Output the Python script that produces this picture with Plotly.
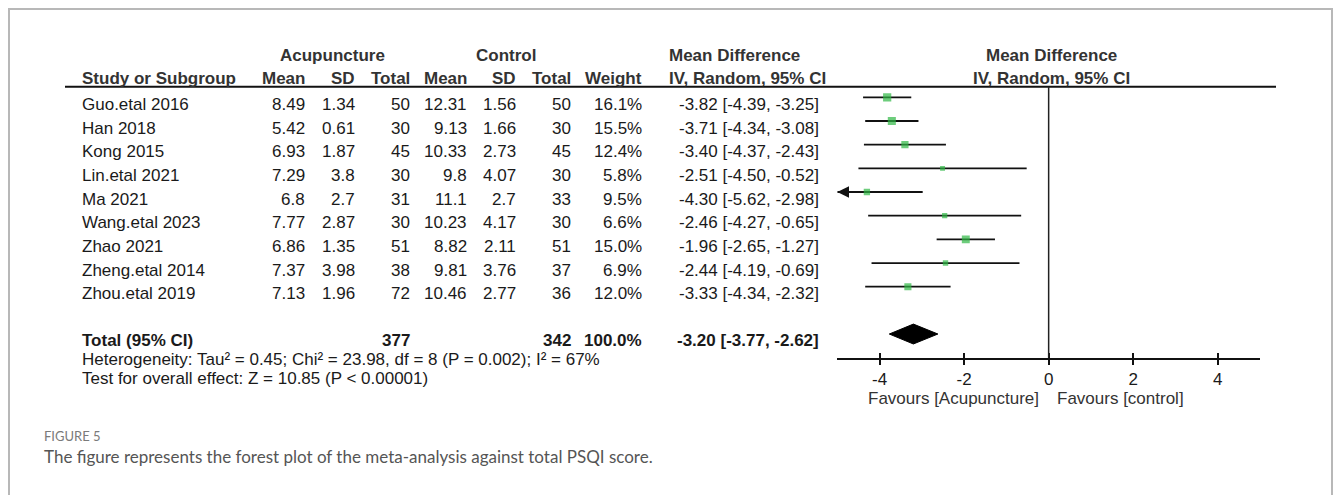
import math
import plotly.graph_objects as go

# ---- study data -------------------------------------------------------------
studies = ["Guo.etal 2016", "Han 2018", "Kong 2015", "Lin.etal 2021", "Ma 2021",
           "Wang.etal 2023", "Zhao 2021", "Zheng.etal 2014", "Zhou.etal 2019"]
acu_mean = [8.49, 5.42, 6.93, 7.29, 6.8, 7.77, 6.86, 7.37, 7.13]
acu_sd = [1.34, 0.61, 1.87, 3.8, 2.7, 2.87, 1.35, 3.98, 1.96]
acu_n = [50, 30, 45, 30, 31, 30, 51, 38, 72]
ctl_mean = [12.31, 9.13, 10.33, 9.8, 11.1, 10.23, 8.82, 9.81, 10.46]
ctl_sd = [1.56, 1.66, 2.73, 4.07, 2.7, 4.17, 2.11, 3.76, 2.77]
ctl_n = [50, 30, 45, 30, 33, 30, 51, 37, 36]
weight = [16.1, 15.5, 12.4, 5.8, 9.5, 6.6, 15.0, 6.9, 12.0]
md = [-3.82, -3.71, -3.40, -2.51, -4.30, -2.46, -1.96, -2.44, -3.33]
ci_lo = [-4.39, -4.34, -4.37, -4.50, -5.62, -4.27, -2.65, -4.19, -4.34]
ci_hi = [-3.25, -3.08, -2.43, -0.52, -2.98, -0.65, -1.27, -0.69, -2.32]

total_acu = 377
total_ctl = 342
total_weight = 100.0
pooled_md = -3.20
pooled_lo = -3.77
pooled_hi = -2.62

heterogeneity = "Heterogeneity: Tau² = 0.45; Chi² = 23.98, df = 8 (P = 0.002); I² = 67%"
overall_test = "Test for overall effect: Z = 10.85 (P < 0.00001)"

x_ticks = [-4, -2, 0, 2, 4]
x_range = [-5, 5]

# ---- layout helpers ---------------------------------------------------------
W, H = 1335, 495
FONT = "Liberation Sans, Arial, sans-serif"
CAP_FONT = "Lato, Open Sans, sans-serif"
TXT = "#1a1a1a"
HDR = "#333333"


def px(x):
    return x / W


def py(y):
    return 1 - y / H


TOTAL_ROW = len(studies) + 1  # blank row between studies and total
ROW_TEXT_SHIFT = -7            # table text sits slightly below the CI lines

annotations = []


def cell(text, x, row=None, y=None, anchor="right", bold=False, color=TXT, size=17,
         shift=ROW_TEXT_SHIFT, family=FONT):
    if bold:
        text = f"<b>{text}</b>"
    a = dict(text=text, xref="paper", x=px(x), xanchor=anchor, yanchor="middle",
             showarrow=False, font=dict(family=family, size=size, color=color))
    if row is not None:
        a.update(yref="y", y=row, yshift=shift)
    else:
        a.update(yref="paper", y=py(y))
    annotations.append(a)


# column right edges (pixels)
C_STUDY = 80
C_AM, C_ASD, C_AN = 306.7, 356.7, 412.3
C_CM, C_CSD, C_CN = 469.3, 518.3, 572.7
C_W = 644
C_CI = 821
C_CI_LEFT = 667

# header rows
H1, H2 = 55, 78.3
cell("Acupuncture", 332, y=H1, anchor="center", bold=True, color=HDR)
cell("Control", 506, y=H1, anchor="center", bold=True, color=HDR)
cell("Mean Difference", C_CI_LEFT, y=H1, anchor="left", bold=True, color=HDR)
cell("Mean Difference", 1051, y=H1, anchor="center", bold=True, color=HDR)
cell("Study or Subgroup", C_STUDY, y=H2, anchor="left", bold=True, color=HDR)
for label, xr in [("Mean", C_AM), ("SD", C_ASD), ("Total", C_AN),
                  ("Mean", C_CM), ("SD", C_CSD), ("Total", C_CN), ("Weight", C_W)]:
    cell(label, xr, y=H2, bold=True, color=HDR)
cell("IV, Random, 95% CI", C_CI_LEFT, y=H2, anchor="left", bold=True, color=HDR)
cell("IV, Random, 95% CI", 1051, y=H2, anchor="center", bold=True, color=HDR)

# study rows
for i, name in enumerate(studies):
    cell(name, C_STUDY, row=i, anchor="left")
    cell(str(acu_mean[i]), C_AM, row=i)
    cell(str(acu_sd[i]), C_ASD, row=i)
    cell(str(acu_n[i]), C_AN, row=i)
    cell(str(ctl_mean[i]), C_CM, row=i)
    cell(str(ctl_sd[i]), C_CSD, row=i)
    cell(str(ctl_n[i]), C_CN, row=i)
    cell(f"{weight[i]:.1f}%", C_W, row=i)
    cell(f"{md[i]:.2f} [{ci_lo[i]:.2f}, {ci_hi[i]:.2f}]", C_CI, row=i)

# total row
cell("Total (95% CI)", C_STUDY, row=TOTAL_ROW, anchor="left", bold=True, shift=-6)
cell(str(total_acu), C_AN, row=TOTAL_ROW, bold=True, shift=-6)
cell(str(total_ctl), C_CN, row=TOTAL_ROW, bold=True, shift=-6)
cell(f"{total_weight:.1f}%", C_W, row=TOTAL_ROW, bold=True, shift=-6)
cell(f"{pooled_md:.2f} [{pooled_lo:.2f}, {pooled_hi:.2f}]", C_CI, row=TOTAL_ROW,
     bold=True, shift=-6)

cell(heterogeneity, C_STUDY, y=359, anchor="left")
cell(overall_test, C_STUDY, y=378.5, anchor="left")

# direction labels under the axis
cell("Favours [Acupuncture]", 953.7, y=398.3, anchor="center", color=HDR)
cell("Favours [control]", 1120, y=398.3, anchor="center", color=HDR)

# caption
cell("FIGURE 5", 42, y=435.5, anchor="left", color="#7a7a7a", size=13, family=CAP_FONT)
cell("The figure represents the forest plot of the meta-analysis against total PSQI score.",
     42, y=456, anchor="left", color="#555555", size=17, family=CAP_FONT)

# ---- forest plot marks -----------------------------------------------------
fig = go.Figure()

line_x, line_y = [], []
for i in range(len(studies)):
    line_x += [max(ci_lo[i], x_range[0]), min(ci_hi[i], x_range[1]), None]
    line_y += [i, i, None]
fig.add_trace(go.Scatter(x=line_x, y=line_y, mode="lines",
                         line=dict(color="#111111", width=1.8),
                         hoverinfo="skip", showlegend=False))

fig.add_trace(go.Scatter(
    x=md, y=list(range(len(studies))), mode="markers",
    marker=dict(symbol="square", color="#2fb845",
                size=[2.05 * math.sqrt(w) for w in weight], line=dict(width=0)),
    showlegend=False, hoverinfo="skip"))

# arrows for intervals running past the axis
for i in range(len(studies)):
    if ci_lo[i] < x_range[0]:
        annotations.append(dict(x=x_range[0], y=i, xref="x", yref="y",
                                ax=x_range[0] + 0.3, ay=i, axref="x", ayref="y",
                                text="", showarrow=True, arrowhead=2, arrowsize=1.3,
                                arrowwidth=1.8, arrowcolor="#111111"))

# pooled-estimate diamond
half_h = 0.42
fig.add_trace(go.Scatter(
    x=[pooled_lo, pooled_md, pooled_hi, pooled_md, pooled_lo],
    y=[TOTAL_ROW, TOTAL_ROW - half_h, TOTAL_ROW, TOTAL_ROW + half_h, TOTAL_ROW],
    mode="lines", fill="toself", fillcolor="#000000",
    line=dict(color="#000000", width=1), showlegend=False, hoverinfo="skip"))

# carrier trace for the inward half of the tick marks
fig.add_trace(go.Scatter(x=[0], y=[0], xaxis="x2", yaxis="y", mode="markers",
                         marker=dict(opacity=0), showlegend=False, hoverinfo="skip"))

shapes = [
    # header rule
    dict(type="line", xref="paper", yref="paper", x0=px(65), x1=px(1276),
         y0=py(86.7), y1=py(86.7), line=dict(color="#111111", width=2)),
    # line of no effect
    dict(type="line", xref="x", yref="y domain", x0=0, x1=0, y0=0, y1=1,
         line=dict(color="#222222", width=1.5)),
    # figure frame
    dict(type="path", xref="paper", yref="paper",
         path=f"M {px(9)},0 L {px(9)},{py(9)} L {px(1332)},{py(9)} L {px(1332)},0",
         line=dict(color="#b8b8b8", width=2)),
]

axis_dom = [px(837.3), px(1260)]
fig.update_layout(
    width=W, height=H, autosize=False,
    margin=dict(l=0, r=0, t=0, b=0, pad=0),
    paper_bgcolor="white", plot_bgcolor="rgba(0,0,0,0)",
    showlegend=False,
    xaxis=dict(domain=axis_dom, range=x_range, showgrid=False, zeroline=False,
               showline=True, linecolor="#111111", linewidth=2,
               ticks="outside", ticklen=5, tickwidth=2, tickcolor="#111111",
               tickvals=x_ticks, ticktext=[str(t) for t in x_ticks],
               tickfont=dict(family=FONT, size=17, color=TXT)),
    xaxis2=dict(domain=axis_dom, range=x_range, overlaying="x", anchor="y",
                side="bottom", showgrid=False, zeroline=False, showline=False,
                ticks="inside", ticklen=5, tickwidth=2, tickcolor="#111111",
                tickvals=x_ticks, showticklabels=False),
    yaxis=dict(domain=[py(357.7), py(86.7)], range=[TOTAL_ROW + 1, -0.45],
               visible=False, showgrid=False, zeroline=False),
    shapes=shapes,
    annotations=annotations,
)

fig.write_html("out.html")
